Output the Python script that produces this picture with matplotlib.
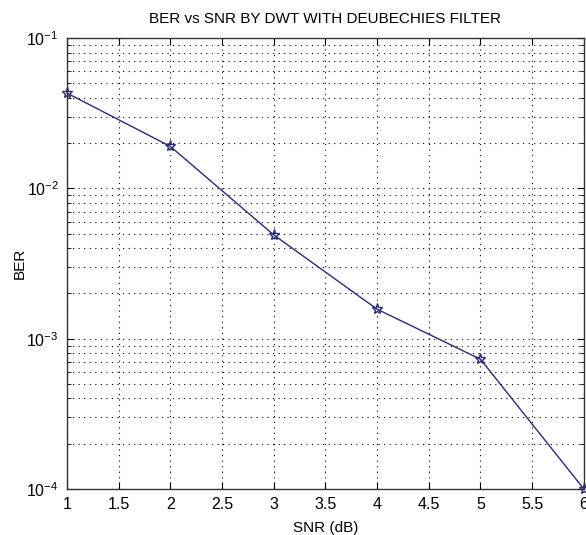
import numpy as np
import matplotlib.pyplot as plt
from matplotlib.ticker import MultipleLocator, LogLocator

plt.rcParams['font.family'] = ['Liberation Sans', 'DejaVu Sans']
plt.rcParams['mathtext.fontset'] = 'custom'
plt.rcParams['mathtext.rm'] = 'Liberation Sans'
plt.rcParams['mathtext.default'] = 'regular'

# data
snr = [1, 2, 3, 4, 5, 6]
ber = [0.043, 0.019, 0.0049, 0.00157, 0.00073, 0.0001]

fig = plt.figure(figsize=(5.86, 5.35), dpi=100)
ax = fig.add_axes([0.1143, 0.086, 0.882, 0.843])

ax.semilogy(snr, ber, color='#2a2a78', linewidth=1.0, marker='*',
            markersize=8, markerfacecolor='none', markeredgecolor='#2a2a78',
            markeredgewidth=1.0, clip_on=False)

ax.set_xlim(1, 6)
ax.set_ylim(1e-4, 1e-1)
ax.xaxis.set_major_locator(MultipleLocator(0.5))
ax.xaxis.set_major_formatter(plt.FuncFormatter(lambda v, p: f'{v:g}'))
ax.yaxis.set_major_locator(LogLocator(base=10, numticks=10))
ax.yaxis.set_minor_locator(LogLocator(base=10, subs=np.arange(2, 10), numticks=20))

grid_style = dict(color='black', linestyle=(0, (1, 4)), linewidth=0.8)
ax.grid(True, which='major', axis='both', **grid_style)
ax.grid(True, which='minor', axis='y', **grid_style)

ax.tick_params(which='both', direction='in', top=True, right=True,
               labelsize=11.5, pad=6)
ax.tick_params(which='major', length=5)
ax.tick_params(which='minor', length=3)
for s in ax.spines.values():
    s.set_linewidth(1.0)
    s.set_color('#333333')

ax.set_title('BER vs SNR BY DWT WITH DEUBECHIES FILTER', fontsize=11, pad=11)
ax.set_xlabel('SNR (dB)', fontsize=11, labelpad=6)
ax.set_ylabel('BER', fontsize=11, labelpad=0)

fig.savefig('out.png', dpi=100)
